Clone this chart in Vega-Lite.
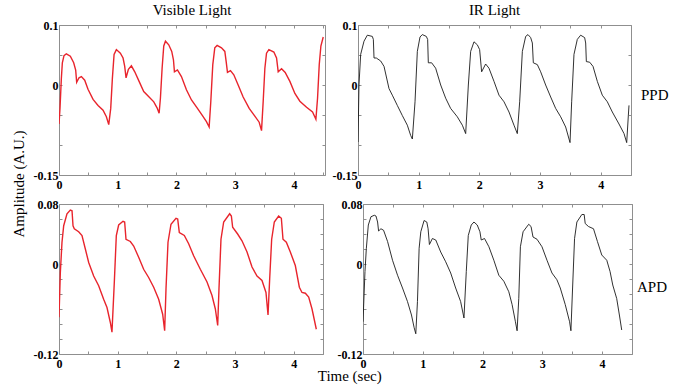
{
  "$schema": "https://vega.github.io/schema/vega-lite/v6.json",
  "padding": {"left": 11, "top": 2, "right": 6, "bottom": 2},
  "background": "white",
  "datasets": {
    "vppd": [
      {"t":0,"a":-0.065},{"t":0.017,"a":-0.039},{"t":0.04,"a":0.011},{"t":0.057,"a":0.037},{"t":0.085,"a":0.049},{"t":0.125,"a":0.052},{"t":0.193,"a":0.048},{"t":0.25,"a":0.037},{"t":0.284,"a":0.025},{"t":0.301,"a":0.0045},{"t":0.341,"a":0.012},{"t":0.381,"a":0.014},{"t":0.438,"a":0.008},{"t":0.494,"a":-0.007},{"t":0.58,"a":-0.024},{"t":0.665,"a":-0.034},{"t":0.75,"a":-0.042},{"t":0.807,"a":-0.053},{"t":0.847,"a":-0.066},
      {"t":0.881,"a":-0.039},{"t":0.909,"a":0.011},{"t":0.938,"a":0.051},{"t":0.977,"a":0.059},{"t":1.045,"a":0.053},{"t":1.091,"a":0.045},{"t":1.119,"a":0.031},{"t":1.142,"a":0.012},{"t":1.182,"a":0.026},{"t":1.233,"a":0.032},{"t":1.29,"a":0.022},{"t":1.364,"a":0.006},{"t":1.443,"a":-0.011},{"t":1.534,"a":-0.02},{"t":1.614,"a":-0.028},{"t":1.67,"a":-0.038},{"t":1.705,"a":-0.047},
      {"t":1.727,"a":-0.022},{"t":1.756,"a":0.028},{"t":1.784,"a":0.065},{"t":1.813,"a":0.073},{"t":1.869,"a":0.067},{"t":1.92,"a":0.056},{"t":1.949,"a":0.042},{"t":1.966,"a":0.022},{"t":2.017,"a":0.025},{"t":2.085,"a":0.014},{"t":2.17,"a":-0.008},{"t":2.256,"a":-0.025},{"t":2.352,"a":-0.038},{"t":2.443,"a":-0.051},{"t":2.511,"a":-0.061},{"t":2.557,"a":-0.07},
      {"t":2.585,"a":-0.028},{"t":2.619,"a":0.034},{"t":2.653,"a":0.062},{"t":2.693,"a":0.066},{"t":2.767,"a":0.062},{"t":2.824,"a":0.056},{"t":2.847,"a":0.039},{"t":2.869,"a":0.021},{"t":2.92,"a":0.024},{"t":2.977,"a":0.017},{"t":3.051,"a":0.0},{"t":3.136,"a":-0.02},{"t":3.239,"a":-0.039},{"t":3.335,"a":-0.052},{"t":3.409,"a":-0.062},{"t":3.449,"a":-0.076},
      {"t":3.477,"a":-0.028},{"t":3.506,"a":0.028},{"t":3.534,"a":0.053},{"t":3.574,"a":0.059},{"t":3.659,"a":0.055},{"t":3.705,"a":0.045},{"t":3.733,"a":0.022},{"t":3.79,"a":0.027},{"t":3.852,"a":0.021},{"t":3.932,"a":0.006},{"t":4.017,"a":-0.014},{"t":4.102,"a":-0.027},{"t":4.216,"a":-0.037},{"t":4.318,"a":-0.045},{"t":4.375,"a":-0.057},
      {"t":4.403,"a":-0.022},{"t":4.432,"a":0.034},{"t":4.46,"a":0.065},{"t":4.5,"a":0.08}
    ],
    "irppd": [
      {"t":0,"a":-0.095},{"t":0.016,"a":0},{"t":0.044,"a":0.051},{"t":0.099,"a":0.073},{"t":0.154,"a":0.083},{"t":0.236,"a":0.081},{"t":0.253,"a":0.076},{"t":0.264,"a":0.045},{"t":0.302,"a":0.045},{"t":0.374,"a":0.04},{"t":0.429,"a":0.031},{"t":0.511,"a":-0.006},{"t":0.566,"a":-0.017},{"t":0.648,"a":-0.034},{"t":0.731,"a":-0.051},{"t":0.813,"a":-0.067},{"t":0.868,"a":-0.084},{"t":0.896,"a":-0.09},
      {"t":0.94,"a":-0.028},{"t":0.978,"a":0.056},{"t":1.022,"a":0.08},{"t":1.06,"a":0.084},{"t":1.126,"a":0.081},{"t":1.148,"a":0.076},{"t":1.159,"a":0.037},{"t":1.214,"a":0.037},{"t":1.28,"a":0.028},{"t":1.363,"a":0},{"t":1.445,"a":-0.022},{"t":1.527,"a":-0.039},{"t":1.637,"a":-0.053},{"t":1.72,"a":-0.067},{"t":1.775,"a":-0.081},
      {"t":1.819,"a":0},{"t":1.857,"a":0.056},{"t":1.912,"a":0.072},{"t":1.967,"a":0.067},{"t":2.005,"a":0.059},{"t":2.038,"a":0.022},{"t":2.104,"a":0.035},{"t":2.159,"a":0.028},{"t":2.242,"a":0.006},{"t":2.324,"a":-0.017},{"t":2.407,"a":-0.028},{"t":2.489,"a":-0.045},{"t":2.571,"a":-0.067},{"t":2.626,"a":-0.081},
      {"t":2.665,"a":-0.028},{"t":2.709,"a":0.056},{"t":2.764,"a":0.081},{"t":2.802,"a":0.084},{"t":2.846,"a":0.079},{"t":2.874,"a":0.07},{"t":2.89,"a":0.037},{"t":2.956,"a":0.034},{"t":3.011,"a":0.022},{"t":3.093,"a":0},{"t":3.176,"a":-0.02},{"t":3.258,"a":-0.039},{"t":3.341,"a":-0.053},{"t":3.423,"a":-0.07},{"t":3.495,"a":-0.096},
      {"t":3.522,"a":-0.028},{"t":3.56,"a":0.051},{"t":3.615,"a":0.076},{"t":3.67,"a":0.083},{"t":3.736,"a":0.079},{"t":3.753,"a":0.07},{"t":3.764,"a":0.039},{"t":3.819,"a":0.038},{"t":3.874,"a":0.031},{"t":3.945,"a":0.006},{"t":4.027,"a":-0.017},{"t":4.11,"a":-0.028},{"t":4.192,"a":-0.045},{"t":4.302,"a":-0.065},{"t":4.385,"a":-0.081},{"t":4.429,"a":-0.096},
      {"t":4.456,"a":-0.051},{"t":4.467,"a":-0.034}
    ],
    "vapd": [
      {"t":0,"a":-0.071},{"t":0.023,"a":-0.011},{"t":0.051,"a":0.029},{"t":0.08,"a":0.051},{"t":0.136,"a":0.067},{"t":0.193,"a":0.072},{"t":0.222,"a":0.071},{"t":0.239,"a":0.051},{"t":0.261,"a":0.047},{"t":0.335,"a":0.043},{"t":0.392,"a":0.038},{"t":0.449,"a":0.02},{"t":0.506,"a":0.002},{"t":0.591,"a":-0.016},{"t":0.676,"a":-0.029},{"t":0.761,"a":-0.047},{"t":0.818,"a":-0.058},{"t":0.875,"a":-0.078},{"t":0.903,"a":-0.091},
      {"t":0.943,"a":-0.024},{"t":0.977,"a":0.038},{"t":1.017,"a":0.052},{"t":1.091,"a":0.057},{"t":1.119,"a":0.056},{"t":1.142,"a":0.033},{"t":1.216,"a":0.03},{"t":1.273,"a":0.024},{"t":1.358,"a":0.009},{"t":1.443,"a":-0.007},{"t":1.528,"a":-0.018},{"t":1.614,"a":-0.031},{"t":1.699,"a":-0.047},{"t":1.767,"a":-0.067},{"t":1.801,"a":-0.089},
      {"t":1.824,"a":-0.033},{"t":1.858,"a":0.029},{"t":1.909,"a":0.053},{"t":1.994,"a":0.061},{"t":2.023,"a":0.06},{"t":2.051,"a":0.042},{"t":2.136,"a":0.038},{"t":2.21,"a":0.027},{"t":2.295,"a":0.011},{"t":2.409,"a":-0.007},{"t":2.523,"a":-0.024},{"t":2.608,"a":-0.042},{"t":2.665,"a":-0.06},{"t":2.705,"a":-0.082},
      {"t":2.727,"a":-0.033},{"t":2.761,"a":0.033},{"t":2.807,"a":0.056},{"t":2.909,"a":0.067},{"t":2.938,"a":0.064},{"t":2.96,"a":0.049},{"t":3.045,"a":0.04},{"t":3.119,"a":0.031},{"t":3.205,"a":0.016},{"t":3.29,"a":-0.004},{"t":3.375,"a":-0.016},{"t":3.46,"a":-0.022},{"t":3.528,"a":-0.038},{"t":3.563,"a":-0.068},
      {"t":3.591,"a":-0.02},{"t":3.625,"a":0.033},{"t":3.67,"a":0.056},{"t":3.744,"a":0.064},{"t":3.79,"a":0.061},{"t":3.818,"a":0.033},{"t":3.875,"a":0.029},{"t":3.943,"a":0.016},{"t":4.028,"a":-0.002},{"t":4.097,"a":-0.031},{"t":4.142,"a":-0.038},{"t":4.199,"a":-0.039},{"t":4.256,"a":-0.044},{"t":4.313,"a":-0.06},{"t":4.386,"a":-0.087}
    ],
    "irapd": [
      {"t":0,"a":-0.077},{"t":0.033,"a":-0.01},{"t":0.056,"a":0.021},{"t":0.089,"a":0.052},{"t":0.133,"a":0.063},{"t":0.189,"a":0.065},{"t":0.217,"a":0.064},{"t":0.244,"a":0.056},{"t":0.261,"a":0.044},{"t":0.3,"a":0.047},{"t":0.344,"a":0.045},{"t":0.411,"a":0.03},{"t":0.494,"a":0.005},{"t":0.578,"a":-0.015},{"t":0.661,"a":-0.032},{"t":0.744,"a":-0.05},{"t":0.811,"a":-0.068},{"t":0.856,"a":-0.085},{"t":0.883,"a":-0.093},
      {"t":0.911,"a":-0.05},{"t":0.939,"a":0.021},{"t":0.967,"a":0.043},{"t":1.022,"a":0.058},{"t":1.067,"a":0.056},{"t":1.089,"a":0.047},{"t":1.111,"a":0.026},{"t":1.161,"a":0.034},{"t":1.217,"a":0.032},{"t":1.3,"a":0.016},{"t":1.383,"a":0.003},{"t":1.467,"a":-0.012},{"t":1.55,"a":-0.032},{"t":1.633,"a":-0.05},{"t":1.689,"a":-0.072},
      {"t":1.728,"a":-0.01},{"t":1.761,"a":0.038},{"t":1.811,"a":0.052},{"t":1.856,"a":0.056},{"t":1.911,"a":0.052},{"t":1.956,"a":0.043},{"t":1.978,"a":0.032},{"t":2.033,"a":0.034},{"t":2.106,"a":0.023},{"t":2.189,"a":0.005},{"t":2.272,"a":-0.015},{"t":2.356,"a":-0.023},{"t":2.439,"a":-0.037},{"t":2.494,"a":-0.054},{"t":2.55,"a":-0.077},{"t":2.578,"a":-0.089},
      {"t":2.606,"a":-0.046},{"t":2.633,"a":0.023},{"t":2.678,"a":0.043},{"t":2.772,"a":0.053},{"t":2.811,"a":0.05},{"t":2.844,"a":0.036},{"t":2.911,"a":0.033},{"t":2.994,"a":0.023},{"t":3.078,"a":0.005},{"t":3.161,"a":-0.012},{"t":3.244,"a":-0.021},{"t":3.3,"a":-0.032},{"t":3.383,"a":-0.054},{"t":3.456,"a":-0.077},{"t":3.478,"a":-0.089},
      {"t":3.506,"a":-0.032},{"t":3.539,"a":0.034},{"t":3.578,"a":0.056},{"t":3.661,"a":0.066},{"t":3.7,"a":0.066},{"t":3.717,"a":0.054},{"t":3.772,"a":0.05},{"t":3.856,"a":0.047},{"t":3.922,"a":0.03},{"t":3.994,"a":0.012},{"t":4.078,"a":0.005},{"t":4.133,"a":-0.01},{"t":4.178,"a":-0.028},{"t":4.244,"a":-0.046},{"t":4.289,"a":-0.068},{"t":4.328,"a":-0.088}
    ]
  },
  "title": {"text": "Amplitude (A.U.)", "orient": "left", "anchor": "middle", "offset": 6, "dx": 9, "fontSize": 15, "fontWeight": "normal", "font": "Liberation Serif", "color": "black"},
  "bounds": "full",
  "spacing": 6,
  "vconcat": [
    {
      "bounds": "flush",
      "spacing": 33,
      "hconcat": [
        {
          "width": 266, "height": 150,
          "title": {"text": "Visible Light", "offset": 1},
          "data": {"name": "vppd"},
          "layer": [
            {"mark": {"type": "line", "color": "#e8242c", "strokeWidth": 1.4, "clip": true},
             "encoding": {
               "x": {"field": "t", "type": "quantitative", "scale": {"domain": [0, 4.53], "nice": false, "zero": false},
                     "axis": {"orient": "bottom", "title": null, "labelPadding": 7, "values": [0,0.5,1,1.5,2,2.5,3,3.5,4,4.5], "labelExpr": "datum.value % 1 === 0 ? toString(datum.value) : ''"}},
               "y": {"field": "a", "type": "quantitative", "scale": {"domain": [-0.15, 0.1], "nice": false, "zero": false},
                     "axis": {"orient": "left", "title": null, "values": [-0.15,-0.1,-0.05,0,0.05,0.1], "labelExpr": "(datum.value === 0.1 || datum.value === 0 || datum.value === -0.15) ? toString(datum.value) : ''"}}
             }},
            {"mark": {"type": "point", "opacity": 0},
             "encoding": {
               "x": {"field": "t", "type": "quantitative", "axis": {"orient": "top", "title": null, "labels": false, "values": [0,0.5,1,1.5,2,2.5,3,3.5,4,4.5]}},
               "y": {"field": "a", "type": "quantitative", "axis": {"orient": "right", "title": null, "labels": false, "values": [-0.15,-0.1,-0.05,0,0.05,0.1]}}
             }}
          ],
          "resolve": {"axis": {"x": "independent", "y": "independent"}}
        },
        {
          "width": 273, "height": 150,
          "title": {"text": "IR Light", "offset": 1},
          "data": {"name": "irppd"},
          "layer": [
            {"mark": {"type": "line", "color": "#1a1a1a", "strokeWidth": 0.9, "clip": true},
             "encoding": {
               "x": {"field": "t", "type": "quantitative", "scale": {"domain": [0, 4.5], "nice": false, "zero": false},
                     "axis": {"orient": "bottom", "title": null, "labelPadding": 7, "values": [0,0.5,1,1.5,2,2.5,3,3.5,4,4.5], "labelExpr": "datum.value % 1 === 0 ? toString(datum.value) : ''"}},
               "y": {"field": "a", "type": "quantitative", "scale": {"domain": [-0.15, 0.1], "nice": false, "zero": false},
                     "axis": {"orient": "left", "title": null, "values": [-0.15,-0.1,-0.05,0,0.05,0.1], "labelExpr": "(datum.value === 0.1 || datum.value === 0 || datum.value === -0.15) ? toString(datum.value) : ''"}}
             }},
            {"mark": {"type": "point", "opacity": 0},
             "encoding": {
               "x": {"field": "t", "type": "quantitative", "axis": {"orient": "top", "title": null, "labels": false, "values": [0,0.5,1,1.5,2,2.5,3,3.5,4,4.5]}},
               "y": {"field": "a", "type": "quantitative", "axis": {"orient": "right", "title": "PPD", "labels": false, "values": [-0.15,-0.1,-0.05,0,0.05,0.1], "titleAngle": 0, "titleAlign": "left", "titleBaseline": "middle", "titleY": 69, "titlePadding": 9}}
             }}
          ],
          "resolve": {"axis": {"x": "independent", "y": "independent"}}
        }
      ]
    },
    {
      "bounds": "flush",
      "spacing": 40,
      "title": {"text": "Time (sec)", "orient": "bottom", "anchor": "middle", "offset": -1, "fontSize": 15, "fontWeight": "normal", "font": "Liberation Serif", "color": "black"},
      "hconcat": [
        {
          "width": 264, "height": 150,
          "data": {"name": "vapd"},
          "layer": [
            {"mark": {"type": "line", "color": "#e8242c", "strokeWidth": 1.4, "clip": true},
             "encoding": {
               "x": {"field": "t", "type": "quantitative", "scale": {"domain": [0, 4.5], "nice": false, "zero": false},
                     "axis": {"orient": "bottom", "title": null, "labelPadding": 7, "values": [0,0.5,1,1.5,2,2.5,3,3.5,4,4.5], "labelExpr": "datum.value % 1 === 0 ? toString(datum.value) : ''"}},
               "y": {"field": "a", "type": "quantitative", "scale": {"domain": [-0.12, 0.08], "nice": false, "zero": false},
                     "axis": {"orient": "left", "title": null, "values": [-0.12,-0.1,-0.08,-0.06,-0.04,-0.02,0,0.02,0.04,0.06,0.08], "labelExpr": "(datum.value === 0.08 || datum.value === 0 || datum.value === -0.12) ? toString(datum.value) : ''"}}
             }},
            {"mark": {"type": "point", "opacity": 0},
             "encoding": {
               "x": {"field": "t", "type": "quantitative", "axis": {"orient": "top", "title": null, "labels": false, "values": [0,0.5,1,1.5,2,2.5,3,3.5,4,4.5]}},
               "y": {"field": "a", "type": "quantitative", "axis": {"orient": "right", "title": null, "labels": false, "values": [-0.12,-0.1,-0.08,-0.06,-0.04,-0.02,0,0.02,0.04,0.06,0.08]}}
             }}
          ],
          "resolve": {"axis": {"x": "independent", "y": "independent"}}
        },
        {
          "width": 269, "height": 150,
          "data": {"name": "irapd"},
          "layer": [
            {"mark": {"type": "line", "color": "#1a1a1a", "strokeWidth": 0.9, "clip": true},
             "encoding": {
               "x": {"field": "t", "type": "quantitative", "scale": {"domain": [0, 4.5], "nice": false, "zero": false},
                     "axis": {"orient": "bottom", "title": null, "labelPadding": 7, "values": [0,0.5,1,1.5,2,2.5,3,3.5,4,4.5], "labelExpr": "datum.value % 1 === 0 ? toString(datum.value) : ''"}},
               "y": {"field": "a", "type": "quantitative", "scale": {"domain": [-0.12, 0.08], "nice": false, "zero": false},
                     "axis": {"orient": "left", "title": null, "values": [-0.12,-0.1,-0.08,-0.06,-0.04,-0.02,0,0.02,0.04,0.06,0.08], "labelExpr": "(datum.value === 0.08 || datum.value === 0 || datum.value === -0.12) ? toString(datum.value) : ''"}}
             }},
            {"mark": {"type": "point", "opacity": 0},
             "encoding": {
               "x": {"field": "t", "type": "quantitative", "axis": {"orient": "top", "title": null, "labels": false, "values": [0,0.5,1,1.5,2,2.5,3,3.5,4,4.5]}},
               "y": {"field": "a", "type": "quantitative", "axis": {"orient": "right", "title": "APD", "labels": false, "values": [-0.12,-0.1,-0.08,-0.06,-0.04,-0.02,0,0.02,0.04,0.06,0.08], "titleAngle": 0, "titleAlign": "left", "titleBaseline": "middle", "titleY": 82, "titlePadding": 4}}
             }}
          ],
          "resolve": {"axis": {"x": "independent", "y": "independent"}}
        }
      ]
    }
  ],
  "config": {
    "font": "Liberation Serif",
    "view": {"stroke": "#8f8f8f", "strokeWidth": 1},
    "axis": {
      "domain": false, "grid": false,
      "tickColor": "#8f8f8f", "tickSize": -3, "tickWidth": 1,
      "labelFont": "Liberation Serif", "labelFontWeight": "bold", "labelFontSize": 12, "labelColor": "black",
      "labelPadding": 4, "labelFlush": false, "labelOverlap": false,
      "titleFont": "Liberation Serif", "titleFontSize": 15, "titleFontWeight": "normal", "titleColor": "black"
    },
    "title": {"font": "Liberation Serif", "fontSize": 15, "fontWeight": "normal", "color": "black"}
  }
}
